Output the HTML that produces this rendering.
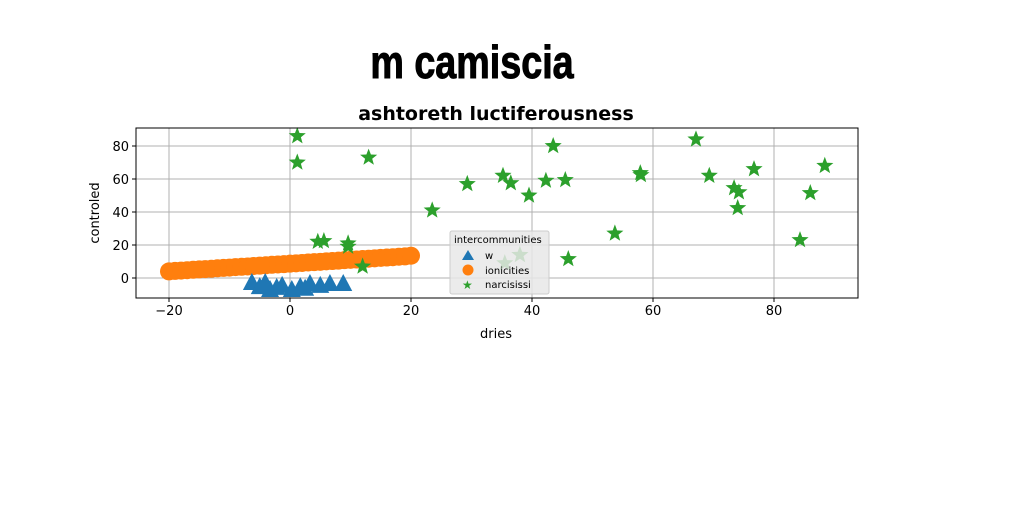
<!DOCTYPE html>
<html><head><meta charset="utf-8">
<style>
html,body{margin:0;padding:0;background:#fff;}
svg{display:block;font-family:"DejaVu Sans","Liberation Sans",sans-serif;}
</style></head>
<body>
<svg id="chart" width="1024" height="512" viewBox="0 0 1024 512">
<rect width="1024" height="512" fill="#fff"/>
<text x="472" y="78" text-anchor="middle" font-family="Liberation Sans Narrow, Liberation Sans, sans-serif" font-weight="bold" font-size="46" stroke="#000" stroke-width="1" transform="translate(472 0) scale(0.82 1) translate(-472 0)">m camiscia</text>
<text x="496" y="120" text-anchor="middle" font-family="DejaVu Sans, sans-serif" font-weight="bold" font-size="19">ashtoreth luctiferousness</text>
<g id="grid"></g>
<g id="marks"></g>
<rect x="136" y="128" width="722" height="170" fill="none" stroke="#000" stroke-width="1"/>
<g id="ticks"></g>
<text x="496" y="338" text-anchor="middle" font-size="13">dries</text>
<text x="99" y="213" text-anchor="middle" font-size="13" transform="rotate(-90 99 213)">controled</text>
<g>
<rect x="450" y="231" width="99" height="63" rx="2" fill="#e8e8e8" fill-opacity="0.85" stroke="#ccc"/>
<text x="454" y="243" font-size="10">intercommunities</text>
<polygon points="468,250 474,260 462,260" fill="#1f77b4"/>
<text x="485" y="259" font-size="10">w</text>
<circle cx="468" cy="270" r="5.5" fill="#ff7f0e"/>
<text x="485" y="274" font-size="10">ionicities</text>
<text x="462" y="289" font-size="12" fill="#2ca02c">★</text>
<text x="485" y="288" font-size="10">narcisissi</text>
</g>
</svg>
<script>
const xTicks=[-20,0,20,40,60,80];
const yTicks=[0,20,40,60,80];
const wX=[-6.3,-5,-4.1,-3.3,-1.3,0.3,1.7,3.3,5,6.6,8.8,2.5,-2.2];
const wY=[-3,-5.5,-3,-7.3,-4.8,-7.3,-5.5,-3.6,-4.8,-3.6,-3.6,-6.5,-6];
const ionX=[-20,-19,-18,-17,-16,-15,-14,-13,-12,-11,-10,-9,-8,-7,-6,-5,-4,-3,-2,-1,0,1,2,3,4,5,6,7,8,9,10,11,12,13,14,15,16,17,18,19,20];
const ionY=[4,4.3,4.5,4.7,5,5.2,5.4,5.6,5.9,6.1,6.3,6.6,6.8,7,7.3,7.5,7.7,8,8.2,8.4,8.7,8.9,9.1,9.4,9.6,9.8,10.1,10.3,10.5,10.8,11,11.2,11.5,11.7,11.9,12.2,12.4,12.6,12.9,13.1,13.5];
const narX=[1.2,1.2,13,4.6,5.6,9.6,9.6,12,23.5,29.3,35.2,36.5,39.5,42.3,43.5,45.5,46,53.7,57.9,58,67.1,69.3,73.4,74.2,74,76.7,84.3,86,88.4,38,35.5];
const narY=[86,70,73,22,22.4,21,19,7,41,57,62,57.5,50,59,80,59.4,11.5,27,63.6,62.4,84,62,54.5,52,42.4,66,23,51.5,68,14,9];
const NS='http://www.w3.org/2000/svg';
const X0=136,X1=858,Y0=128,Y1=298;
function sx(v){return 290+v*6.05;}
function sy(v){return 278-v*1.65;}
function mk(tag,attrs,parent){const e=document.createElementNS(NS,tag);for(const k in attrs)e.setAttribute(k,attrs[k]);parent.appendChild(e);return e;}
const grid=document.getElementById('grid'),ticks=document.getElementById('ticks'),marks=document.getElementById('marks');
xTicks.forEach(t=>{const x=sx(t);
 const g=mk('line',{x1:x,x2:x,y1:Y0,y2:Y1,stroke:'#b0b0b0','stroke-width':1},grid);
 
 
 const tk=mk('line',{x1:x,x2:x,y1:Y1,y2:Y1+4,stroke:'#000'},ticks);
 
 
 const tl=mk('text',{x:x,y:Y1+17,'text-anchor':'middle','font-size':13},ticks);tl.textContent=(t<0?'\u2212'+(-t):t);
 
 
});
yTicks.forEach(t=>{const y=sy(t);
 const g=mk('line',{x1:X0,x2:X1,y1:y,y2:y,stroke:'#b0b0b0','stroke-width':1},grid);
 
 
 const tk=mk('line',{x1:X0-4,x2:X0,y1:y,y2:y,stroke:'#000'},ticks);
 
 
 const tl=mk('text',{x:X0-7,y:y+5,'text-anchor':'end','font-size':13},ticks);tl.textContent=t;
 
 
});
ionX.forEach((v,i)=>{const c=mk('circle',{cx:sx(v),cy:sy(ionY[i]),r:9,fill:'#ff7f0e'},marks);
 
 });
wX.forEach((v,i)=>{const x=sx(v),y=sy(wY[i]);
 const p=mk('polygon',{points:`${x},${y-10} ${x+9},${y+7} ${x-9},${y+7}`,fill:'#1f77b4'},marks);
 
 });
function star(cx,cy,R){let s=[];for(let k=0;k<10;k++){const r=k%2?R*0.42:R;const a=-Math.PI/2+k*Math.PI/5;s.push((cx+r*Math.cos(a)).toFixed(1)+','+(cy+r*Math.sin(a)).toFixed(1));}return s.join(' ');}
narX.forEach((v,i)=>{const p=mk('polygon',{points:star(sx(v),sy(narY[i]),9),fill:'#2ca02c'},marks);
 
 });
</script>
</body></html>
